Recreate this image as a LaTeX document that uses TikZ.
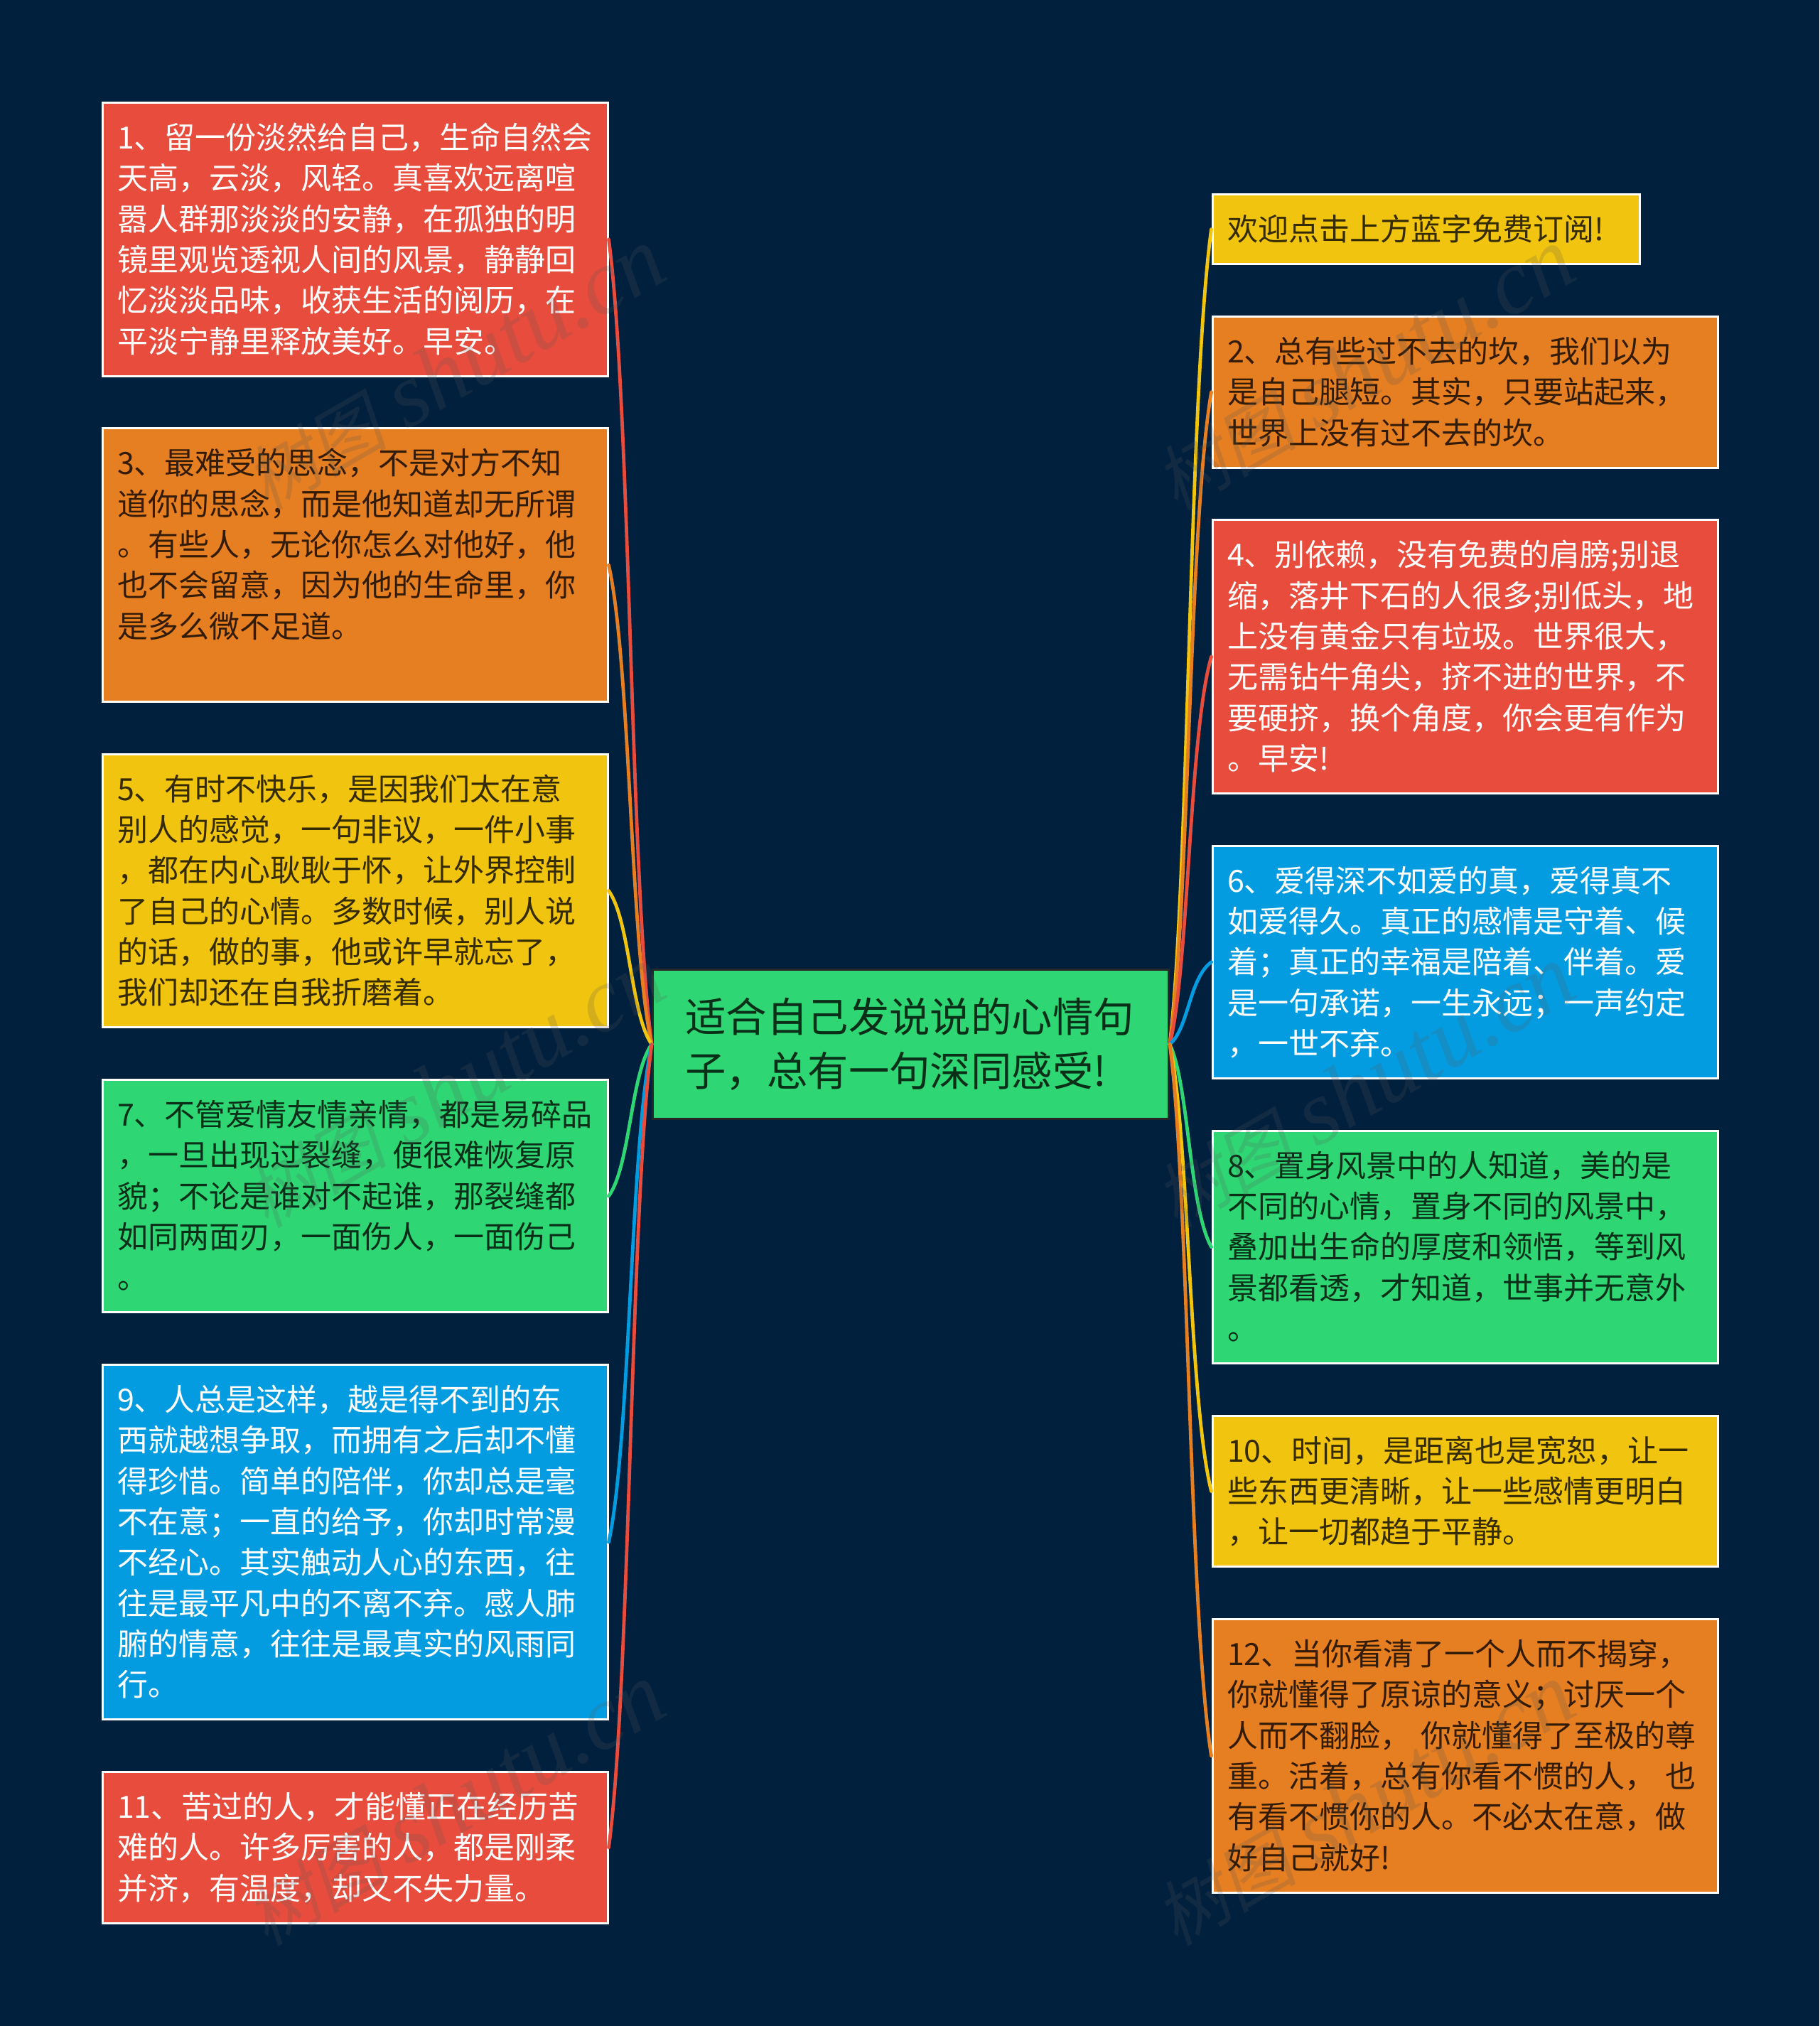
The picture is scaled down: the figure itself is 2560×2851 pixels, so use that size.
\documentclass[tikz,border=0pt]{standalone}
\usepackage{fontspec}
\usepackage{xcolor}
\usepackage{tikz}
\usetikzlibrary{positioning,calc}
\setmainfont{Noto Sans CJK SC}
\newfontfamily\wmcjk[FakeSlant=0.2]{Noto Sans CJK SC}
\newfontfamily\wmlatin{Liberation Serif}
\definecolor{bgblue}{HTML}{01203E}
\definecolor{cred}{HTML}{E74C3C}
\definecolor{corange}{HTML}{E67E22}
\definecolor{cyellow}{HTML}{F1C40F}
\definecolor{cgreen}{HTML}{2ED773}
\definecolor{cblue}{HTML}{049CE0}
\newcommand{\linestrut}{\rule[-.22\baselineskip]{0pt}{\baselineskip}}
\begin{document}
\begin{tikzpicture}[x=0.5pt,y=-0.5pt,node distance=35.25pt]
\tikzstyle{leaf}=[rectangle,draw=white,line width=1.5pt,text width=334.5pt,align=left,inner xsep=10.5pt,inner ysep=10.25pt,font=\fontsize{21.5pt}{28.65pt}\selectfont,execute at begin node=\linestrut,execute at end node=\linestrut]
\tikzstyle{lightleaf}=[leaf,text=white]
\tikzstyle{darkleaf}=[leaf,text=black,text opacity=0.78]
\tikzstyle{rootbox}=[rectangle,draw=black!85,line width=1.5pt,fill=cgreen,text=black,text opacity=0.78,text width=317pt,align=left,inner xsep=23pt,inner ysep=14.5pt,font=\fontsize{28.7pt}{38pt}\selectfont,execute at begin node=\linestrut,execute at end node=\linestrut]
\tikzstyle{link}=[line width=2.4pt,line cap=round]
\tikzstyle{wmark}=[rotate=30,text=gray!70!black,text opacity=0.2,inner sep=0pt]
\path[use as bounding box,fill=bgblue] (0,0) rectangle (2560,2851);
% centre
\node[rootbox,anchor=north west] (root) at (917,1363) {适合自己发说说的心情句\\子，总有一句深同感受!};
% left column
\node[lightleaf,fill=cred,anchor=north west] (n1) at (142.5,143) {1、留一份淡然给自己，生命自然会\\天高，云淡，风轻。真喜欢远离喧\\嚣人群那淡淡的安静，在孤独的明\\镜里观览透视人间的风景，静静回\\忆淡淡品味，收获生活的阅历，在\\平淡宁静里释放美好。早安。};
\node[darkleaf,fill=corange,below=of n1] (n3) {3、最难受的思念，不是对方不知\\道你的思念，而是他知道却无所谓\\。有些人，无论你怎么对他好，他\\也不会留意，因为他的生命里，你\\是多么微不足道。\\\mbox{}};
\node[darkleaf,fill=cyellow,below=of n3] (n5) {5、有时不快乐，是因我们太在意\\别人的感觉，一句非议，一件小事\\，都在内心耿耿于怀，让外界控制\\了自己的心情。多数时候，别人说\\的话，做的事，他或许早就忘了，\\我们却还在自我折磨着。};
\node[darkleaf,fill=cgreen,below=of n5] (n7) {7、不管爱情友情亲情，都是易碎品\\，一旦出现过裂缝，便很难恢复原\\貌；不论是谁对不起谁，那裂缝都\\如同两面刃，一面伤人，一面伤己\\。};
\node[lightleaf,fill=cblue,below=of n7] (n9) {9、人总是这样，越是得不到的东\\西就越想争取，而拥有之后却不懂\\得珍惜。简单的陪伴，你却总是毫\\不在意；一直的给予，你却时常漫\\不经心。其实触动人心的东西，往\\往是最平凡中的不离不弃。感人肺\\腑的情意，往往是最真实的风雨同\\行。};
\node[lightleaf,fill=cred,below=of n9] (n11) {11、苦过的人，才能懂正在经历苦\\难的人。许多厉害的人，都是刚柔\\并济，有温度，却又不失力量。};
% right column
\node[darkleaf,fill=cyellow,text width=279.5pt,anchor=north west] (n0) at (1704.5,272) {欢迎点击上方蓝字免费订阅!};
\node[darkleaf,fill=corange,below=of n0.south west,anchor=north west] (n2) {2、总有些过不去的坎，我们以为\\是自己腿短。其实，只要站起来，\\世界上没有过不去的坎。};
\node[lightleaf,fill=cred,below=of n2] (n4) {4、别依赖，没有免费的肩膀;别退\\缩，落井下石的人很多;别低头，地\\上没有黄金只有垃圾。世界很大，\\无需钻牛角尖，挤不进的世界，不\\要硬挤，换个角度，你会更有作为\\。早安!};
\node[lightleaf,fill=cblue,below=of n4] (n6) {6、爱得深不如爱的真，爱得真不\\如爱得久。真正的感情是守着、候\\着；真正的幸福是陪着、伴着。爱\\是一句承诺，一生永远；一声约定\\，一世不弃。};
\node[darkleaf,fill=cgreen,below=of n6] (n8) {8、置身风景中的人知道，美的是\\不同的心情，置身不同的风景中，\\叠加出生命的厚度和领悟，等到风\\景都看透，才知道，世事并无意外\\。};
\node[darkleaf,fill=cyellow,below=of n8] (n10) {10、时间，是距离也是宽恕，让一\\些东西更清晰，让一些感情更明白\\，让一切都趋于平静。};
\node[darkleaf,fill=corange,below=of n10] (n12) {12、当你看清了一个人而不揭穿，\\你就懂得了原谅的意义；讨厌一个\\人而不翻脸， 你就懂得了至极的尊\\重。活着，总有你看不惯的人， 也\\有看不惯你的人。不必太在意，做\\好自己就好!};
% branches
\coordinate (lmid) at (887,1468);
\coordinate (rmid) at (1673,1468);
\foreach \leaf/\col in {n1/cred,n3/corange,n5/cyellow,n7/cgreen,n9/cblue,n11/cred}
  \draw[link,\col] (root.west) .. controls ($(lmid |- root.west)!.2!(lmid |- \leaf.east)$) and ($(lmid |- root.west)!.8!(lmid |- \leaf.east)$) .. (\leaf.east);
\foreach \leaf/\col in {n0/cyellow,n2/corange,n4/cred,n6/cblue,n8/cgreen,n10/cyellow,n12/corange}
  \draw[link,\col] (root.east) .. controls ($(rmid |- root.east)!.2!(rmid |- \leaf.west)$) and ($(rmid |- root.east)!.8!(rmid |- \leaf.west)$) .. (\leaf.west);
% watermark
\foreach \px/\py/\wm in {640/520/a,1920/520/b,640/1530/c,1920/1530/d,640/2540/e,1920/2540/f}
  \node[wmark] (wm\wm) at (\px,\py) {{\wmcjk\fontsize{50pt}{50pt}\selectfont 树图}\hspace{14pt}{\wmlatin\itshape\fontsize{64pt}{64pt}\selectfont shutu.cn}};
\end{tikzpicture}
\end{document}
